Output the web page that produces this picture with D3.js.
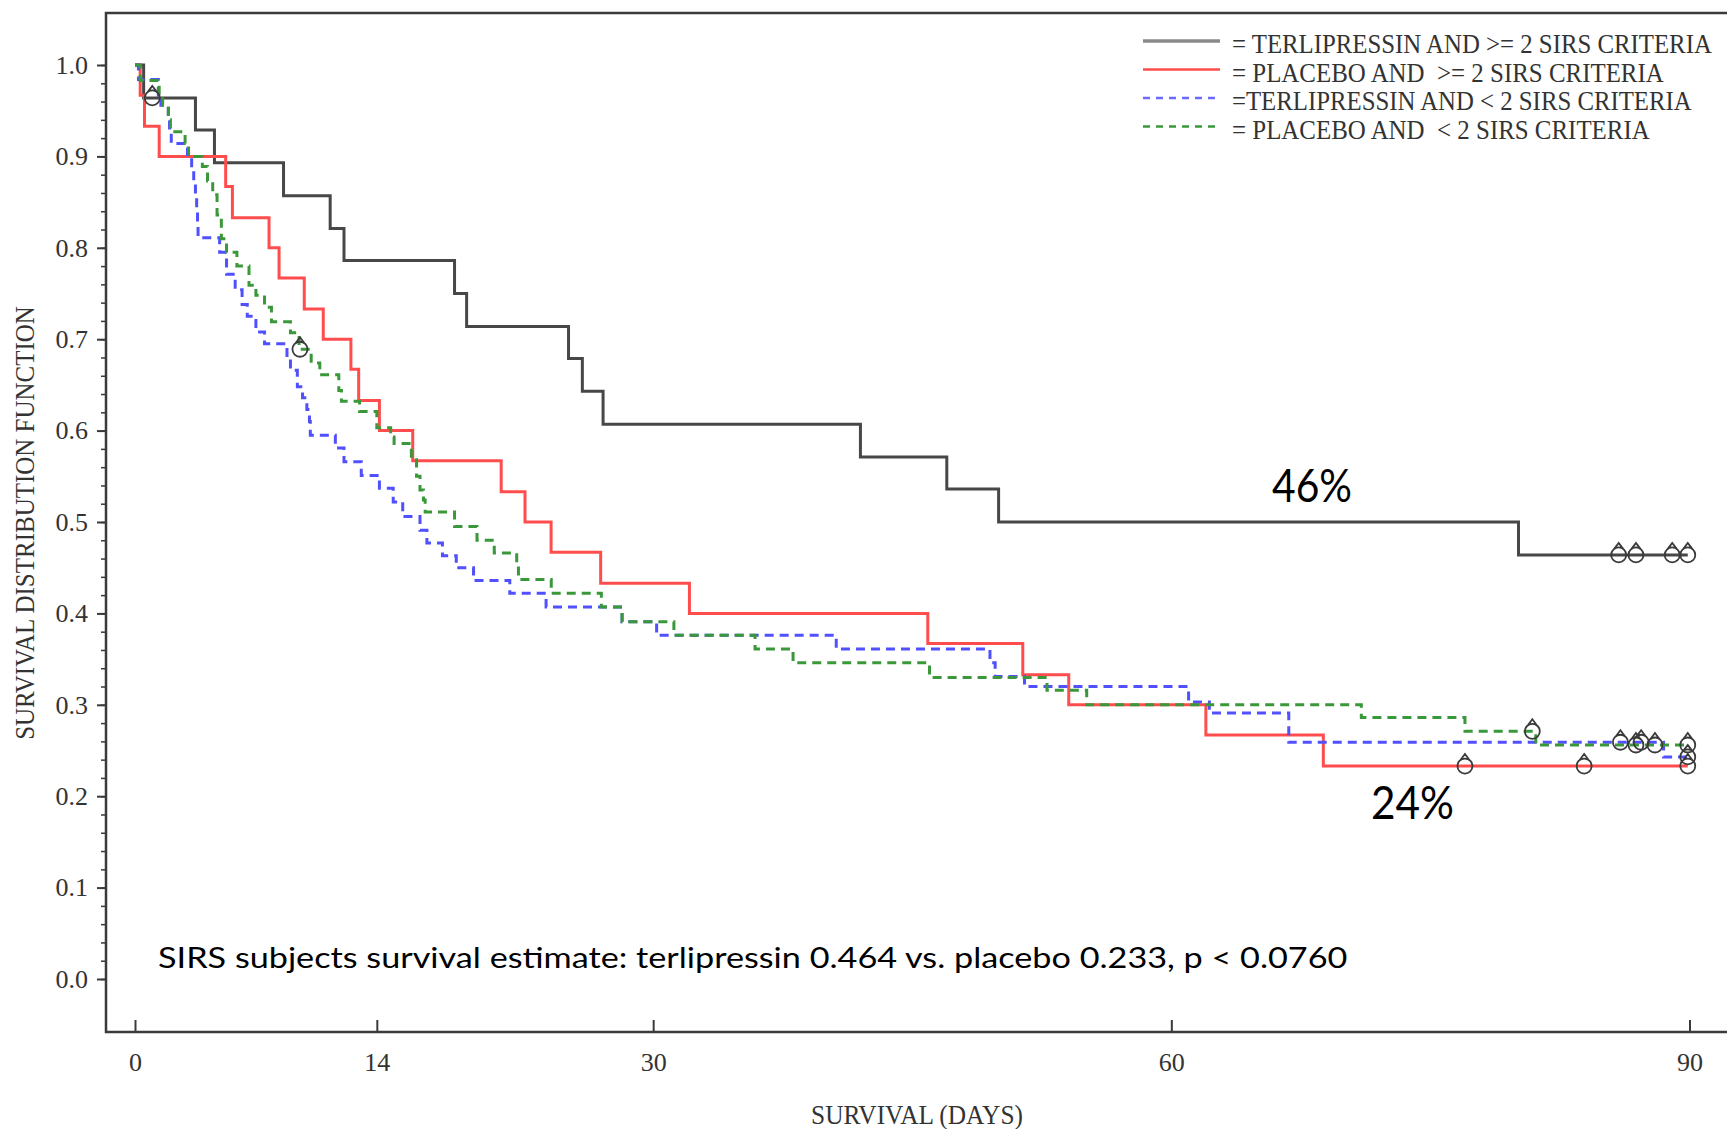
<!DOCTYPE html>
<html><head><meta charset="utf-8">
<script src="https://cdn.jsdelivr.net/npm/d3@7"></script>
<style>
html,body{margin:0;padding:0;background:#fff;}
svg{display:block;}
text{white-space:pre;}
</style></head>
<body>
<svg id="chart" width="1727" height="1129"></svg>
<script>
// ---------------- DATA ----------------
const xTicks = [0, 14, 30, 60, 90];
const yTicks = [0, 0.1, 0.2, 0.3, 0.4, 0.5, 0.6, 0.7, 0.8, 0.9, 1.0];
const yMinorTicks = d3.range(0, 51).map(i => i / 50);

const legendLabels = [
  "= TERLIPRESSIN AND >= 2 SIRS CRITERIA",
  "= PLACEBO AND  >= 2 SIRS CRITERIA",
  "=TERLIPRESSIN AND < 2 SIRS CRITERIA",
  "= PLACEBO AND  < 2 SIRS CRITERIA"
];

// Terlipressin and >= 2 SIRS criteria
const blackT = [0.5, 3.5, 4.6, 8.6, 11.3, 12.1, 18.5, 19.2, 25.1, 25.9, 27.1, 42.0, 47.0, 50.0, 80.1];
const blackS = [0.964, 0.929, 0.893, 0.857, 0.821, 0.786, 0.750, 0.714, 0.679, 0.643, 0.607, 0.571, 0.536, 0.500, 0.464];
const blackCensor = [1.0, 85.9, 86.9, 89.0, 89.9];

// Placebo and >= 2 SIRS criteria
const redT = [0.3, 0.55, 1.4, 5.25, 5.64, 7.76, 8.34, 9.8, 10.9, 12.5, 12.95, 14.15, 16.08, 21.2, 22.58, 24.09, 26.96, 32.1, 45.9, 51.4, 54.06, 62.0, 68.8];
const redS = [0.967, 0.933, 0.900, 0.867, 0.833, 0.800, 0.767, 0.733, 0.700, 0.667, 0.633, 0.600, 0.567, 0.533, 0.500, 0.467, 0.433, 0.400, 0.367, 0.333, 0.300, 0.267, 0.233];
const redCensor = [77.0, 83.9, 89.9];

// Terlipressin and < 2 SIRS criteria
const blueT = [0.2, 1.35, 1.5, 1.93, 2.0, 2.1, 3.04, 3.28, 3.4, 3.5, 3.57, 3.62, 3.65, 4.9, 5.3, 5.8, 6.2, 6.5, 7.0, 7.5,
  8.8, 9.0, 9.4, 9.7, 9.95, 10.1, 10.15, 11.6, 12.1, 13.1, 14.15, 14.95, 15.5, 16.5, 16.9, 17.8, 18.6, 19.6, 21.7, 23.8,
  28.2, 30.2, 40.6, 49.5, 49.8, 51.5, 61.0, 62.2, 66.8, 88.5];
const blueS = [0.984, 0.967, 0.956, 0.940, 0.927, 0.914, 0.902, 0.887, 0.871, 0.857, 0.843, 0.827, 0.811, 0.795, 0.771, 0.754, 0.738, 0.725, 0.708, 0.695,
  0.680, 0.666, 0.648, 0.636, 0.623, 0.610, 0.595, 0.581, 0.566, 0.551, 0.537, 0.522, 0.506, 0.491, 0.477, 0.463, 0.450, 0.436, 0.422, 0.407,
  0.391, 0.376, 0.361, 0.346, 0.331, 0.320, 0.303, 0.291, 0.259, 0.243];
const blueCensor = [86.0, 87.2, 89.9];

// Placebo and < 2 SIRS criteria
const greenT = [0.3, 1.4, 1.6, 1.93, 2.05, 2.9, 3.1, 3.9, 4.2, 4.5, 4.75, 5.0, 5.3, 5.9, 6.6, 7.0, 7.5, 7.9, 9.0, 9.5,
  10.2, 10.7, 11.8, 11.95, 13.0, 14.0, 14.8, 15.0, 16.0, 16.3, 16.5, 16.7, 16.8, 18.5, 19.8, 20.8, 22.1, 22.2, 24.1, 27.0,
  28.2, 31.2, 35.9, 38.1, 46.0, 52.8, 55.1, 71.0, 77.0, 81.1];
const greenS = [0.983, 0.967, 0.956, 0.940, 0.927, 0.914, 0.900, 0.889, 0.873, 0.858, 0.836, 0.810, 0.795, 0.780, 0.759, 0.748, 0.735, 0.719, 0.707, 0.689,
  0.674, 0.661, 0.644, 0.632, 0.621, 0.603, 0.593, 0.586, 0.568, 0.550, 0.535, 0.524, 0.511, 0.495, 0.480, 0.466, 0.452, 0.437, 0.422, 0.407,
  0.391, 0.376, 0.361, 0.346, 0.330, 0.316, 0.300, 0.286, 0.271, 0.256];
const greenCensor = [9.55, 80.9, 86.9, 88.0, 89.9];

const followUpEnd = 89.9;

const annotationText = "SIRS subjects survival estimate: terlipressin 0.464 vs. placebo 0.233, p < 0.0760";
const label46 = "46%";
const label24 = "24%";

// ---------------- CHART ----------------
const svg = d3.select("#chart");
svg.append("rect").attr("width", 1727).attr("height", 1129).attr("fill", "#fff");

const frameLeft = 106, frameTop = 13, frameBottom = 1032, frameRight = 1740;
const x = d3.scaleLinear().domain([0, 90]).range([135, 1689.5]);
const y = d3.scaleLinear().domain([0, 1]).range([979, 65]);

const axisColor = "#3a3a3a";
const serif = "'Liberation Serif', 'DejaVu Serif', serif";
const sans = "Lato, 'Open Sans', sans-serif";

// Place a text so that its rendered width equals targetW by horizontal scaling.
// anchor: 'start' or 'middle'; rotate: optional degrees.
function fitText(parent, str, px, py, targetW, opts) {
  const g = parent.append("g");
  const t = g.append("text")
    .attr("font-family", opts.font).attr("font-size", opts.size)
    .attr("fill", opts.fill || "#333")
    .attr("text-anchor", opts.anchor || "start")
    .text(str);
  const natural = t.node().getComputedTextLength();
  const k = targetW / natural;
  const rot = opts.rotate ? ` rotate(${opts.rotate})` : "";
  g.attr("transform", `translate(${px},${py})${rot} scale(${k},1)`);
  return t;
}

// frame
svg.append("path")
  .attr("d", `M${frameRight},${frameTop}H${frameLeft}V${frameBottom}H${frameRight}`)
  .attr("fill", "none").attr("stroke", axisColor).attr("stroke-width", 2.5);

// y axis minor ticks
const yMinor = svg.append("g").attr("transform", `translate(${frameLeft},0)`)
  .call(d3.axisLeft(y).tickValues(yMinorTicks).tickSize(5).tickFormat(""));
yMinor.select(".domain").remove();
yMinor.selectAll("line").attr("stroke", axisColor).attr("stroke-width", 1.5);

// y axis major ticks
const yAxis = svg.append("g").attr("transform", `translate(${frameLeft},0)`)
  .call(d3.axisLeft(y).tickValues(yTicks).tickSize(9).tickPadding(9).tickFormat(d3.format(".1f")));
yAxis.select(".domain").remove();
yAxis.selectAll("line").attr("stroke", axisColor).attr("stroke-width", 2);
yAxis.selectAll("text").attr("font-family", serif).attr("font-size", 26).attr("fill", "#333");

// x axis
const xAxis = svg.append("g").attr("transform", `translate(0,${frameBottom})`)
  .call(d3.axisBottom(x).tickValues(xTicks).tickSize(-12).tickPadding(21).tickFormat(d3.format("d")));
xAxis.select(".domain").remove();
xAxis.selectAll("line").attr("stroke", axisColor).attr("stroke-width", 2);
xAxis.selectAll("text").attr("font-family", serif).attr("font-size", 26).attr("fill", "#333");

// axis titles
fitText(svg, "SURVIVAL (DAYS)", 917, 1124, 212, { font: serif, size: 27, anchor: "middle" });
fitText(svg, "SURVIVAL DISTRIBUTION FUNCTION", 33.5, 523, 434, { font: serif, size: 27, anchor: "middle", rotate: -90 });

// curves
const series = [
  { t: blackT, s: blackS, c: blackCensor, color: "#474747", legendColor: "#8a8a8a", dash: null, w: 3 },
  { t: redT, s: redS, c: redCensor, color: "#ff4d4d", legendColor: "#ff4d4d", dash: null, w: 3 },
  { t: blueT, s: blueS, c: blueCensor, color: "#5050ff", legendColor: "#6a6aff", dash: "9,6", w: 3 },
  { t: greenT, s: greenS, c: greenCensor, color: "#3a983a", legendColor: "#3a983a", dash: "9,6", w: 3 }
];

function survAt(ser, t) {
  let v = 1;
  for (let i = 0; i < ser.t.length; i++) if (ser.t[i] <= t) v = ser.s[i];
  return v;
}

const line = d3.line().x(d => x(d[0])).y(d => y(d[1])).curve(d3.curveStepAfter);

series.forEach(ser => {
  const pts = [[0, 1]];
  ser.t.forEach((t, i) => pts.push([t, ser.s[i]]));
  pts.push([followUpEnd, ser.s[ser.s.length - 1]]);
  const p = svg.append("path").datum(pts)
    .attr("d", line).attr("fill", "none")
    .attr("stroke", ser.color).attr("stroke-width", ser.w)
    .attr("stroke-linejoin", "miter");
  if (ser.dash) p.attr("stroke-dasharray", ser.dash);
});

// censor markers
const mk = d3.path();
mk.moveTo(7.5, 0); mk.arc(0, 0, 7.5, 0, 2 * Math.PI);
mk.moveTo(-4.5, -6); mk.lineTo(0, -12); mk.lineTo(4.5, -6);
const markerPath = mk.toString();

series.forEach(ser => {
  svg.append("g").selectAll("path").data(ser.c).join("path")
    .attr("transform", d => `translate(${x(d)},${y(survAt(ser, d))})`)
    .attr("d", markerPath).attr("fill", "none")
    .attr("stroke", "#3a3a3a").attr("stroke-width", 1.8);
});

// legend
const legendRowY = [41, 69.5, 98, 126.5];
const legendTextW = [480, 432, 460, 418];
const lg = svg.append("g");
series.forEach((ser, i) => {
  const l = lg.append("line")
    .attr("x1", 1143).attr("x2", 1220).attr("y1", legendRowY[i]).attr("y2", legendRowY[i])
    .attr("stroke", ser.legendColor).attr("stroke-width", i === 0 ? 3.5 : 2.5);
  if (ser.dash) l.attr("stroke-dasharray", "7,6");
  fitText(lg, legendLabels[i], 1232, legendRowY[i] + 12, legendTextW[i], { font: serif, size: 27 });
});

// annotations
fitText(svg, annotationText, 158, 968, 1190, { font: sans, size: 29, fill: "#000" });
fitText(svg, label46, 1272, 502, 80, { font: sans, size: 46, fill: "#000" });
fitText(svg, label24, 1371, 819, 83, { font: sans, size: 46, fill: "#000" });
</script>
</body></html>
